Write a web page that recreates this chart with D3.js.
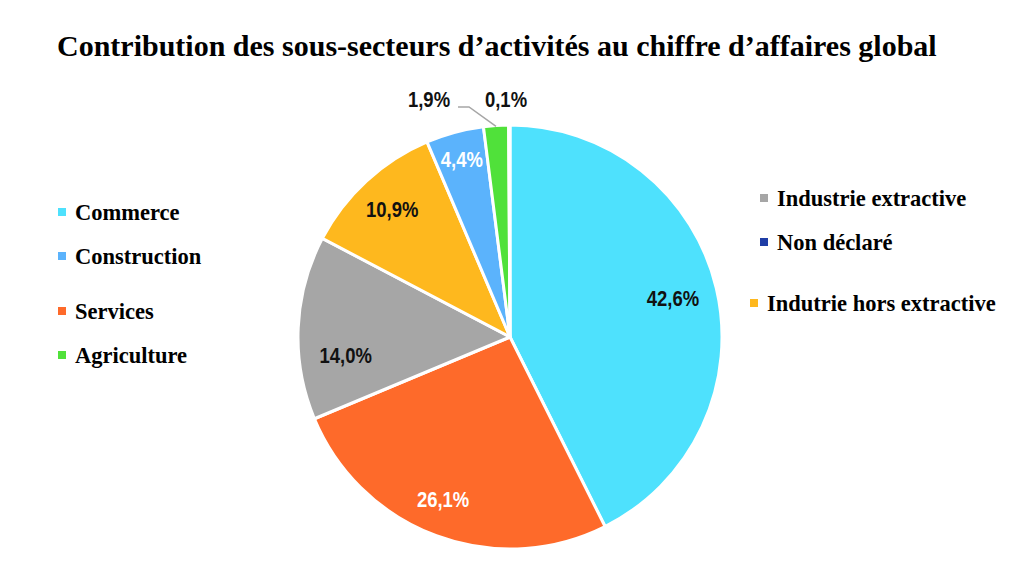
<!DOCTYPE html>
<html>
<head>
<meta charset="utf-8">
<script src="https://cdn.jsdelivr.net/npm/d3@7"></script>
<style>
  body { margin: 0; background: #fff; }
</style>
</head>
<body>
<svg id="chart"></svg>
<script>
(function () {

// Data (clockwise from 12 o'clock)
const sectors = ["Commerce", "Services", "Industrie extractive", "Indutrie hors extractive", "Construction", "Agriculture", "Non déclaré"];
const shares = [42.6, 26.1, 14.0, 10.9, 4.4, 1.9, 0.1];
const colors = ["#4ee1fd", "#fe6a2a", "#a6a6a6", "#feb81e", "#5bb3fc", "#50e13a", "#1f3ea6"];
const labelColors = ["#111", "#fff", "#111", "#111", "#fff", "#111", "#111"];

// Legend columns as in the picture
const legendLeft = ["Commerce", "Construction", "Services", "Agriculture"];
const legendRight = ["Industrie extractive", "Non déclaré", "Indutrie hors extractive"];

const width = 1024, height = 561;
const cx = 510, cy = 337, radius = 212;

const svg = d3.select("#chart")
    .attr("width", width)
    .attr("height", height);

svg.append("text")
    .attr("x", 57)
    .attr("y", 56)
    .style("font-family", "'Liberation Serif', 'Times New Roman', serif")
    .style("font-weight", "bold")
    .style("font-size", "30px")
    .text("Contribution des sous-secteurs d\u2019activités au chiffre d\u2019affaires global");

const data = sectors.map((s, i) => ({sector: s, value: shares[i], color: colors[i], lc: labelColors[i]}));

const pie = d3.pie().sort(null).value(d => d.value);
const arc = d3.arc().innerRadius(0).outerRadius(radius);
const arcs = pie(data);

const g = svg.append("g").attr("transform", `translate(${cx},${cy})`);

g.selectAll("path")
    .data(arcs)
    .enter().append("path")
    .attr("d", arc)
    .attr("fill", d => d.data.color)
    .attr("stroke", "#fff")
    .attr("stroke-width", 3)
    .attr("stroke-linejoin", "round");

const labelFont = "'Liberation Sans Narrow', 'Arial Narrow', 'Liberation Sans', sans-serif";
const fmt = v => d3.format(".1f")(v).replace(".", ",") + "%";

// label radius (fraction of radius) and angle nudge (degrees), per slice
const labelR = [0.79, 0.83, 0.78, 0.82, 0.87];
const labelNudge = [0, 2, -9, 0, 0];
const inside = arcs.slice(0, 5);

g.selectAll(".lbl")
    .data(inside)
    .enter().append("text")
    .attr("class", "lbl")
    .attr("transform", (d, i) => {
        const a = (d.startAngle + d.endAngle) / 2 + labelNudge[i] * Math.PI / 180;
        const r = radius * labelR[i];
        return `translate(${Math.sin(a) * r},${-Math.cos(a) * r}) scale(0.84,1)`;
    })
    .attr("text-anchor", "middle")
    .attr("dy", "0.35em")
    .style("font-family", labelFont)
    .style("font-weight", "bold")
    .style("font-size", "22px")
    .style("fill", d => d.data.lc)
    .text(d => fmt(d.data.value));

// outside labels for the two small slices
const agri = arcs[5], nd = arcs[6];
const aMid = (agri.startAngle + agri.endAngle) / 2;
const edgeX = Math.sin(aMid) * radius, edgeY = -Math.cos(aMid) * radius;

g.append("polyline")
    .attr("points", [[edgeX, edgeY + 1], [edgeX - 27, -radius - 18], [edgeX - 38, -radius - 18]].map(p => p.join(",")).join(" "))
    .attr("fill", "none")
    .attr("stroke", "#a6a6a6")
    .attr("stroke-width", 1.5);

function outsideLabel(x, d) {
    g.append("text")
        .attr("transform", `translate(${x},${-radius - 26}) scale(0.84,1)`)
        .attr("text-anchor", "middle")
        .attr("dy", "0.35em")
        .style("font-family", labelFont)
        .style("font-weight", "bold")
        .style("font-size", "22px")
        .style("fill", "#111")
        .text(fmt(d.data.value));
}
outsideLabel(-81, agri);
outsideLabel(-4, nd);

// Legends
const colorOf = d3.scaleOrdinal().domain(sectors).range(colors);
const legendFont = "'Liberation Serif', 'Times New Roman', serif";

function legend(names, x, ys) {
    const lg = svg.append("g");
    const item = lg.selectAll("g")
        .data(names)
        .enter().append("g")
        .attr("transform", (d, i) => `translate(${x[i]},${ys[i]})`);
    item.append("rect")
        .attr("x", 0).attr("y", -4)
        .attr("width", 8).attr("height", 8)
        .attr("fill", d => colorOf(d));
    item.append("text")
        .attr("x", 17)
        .attr("dy", "0.35em")
        .style("font-family", legendFont)
        .style("font-weight", "bold")
        .style("font-size", "22.5px")
        .text(d => d);
}

legend(legendLeft, [58, 58, 58, 58], [212, 256, 311, 355]);
legend(legendRight, [760, 760, 750], [198, 242, 303]);

})();
</script>
</body>
</html>
